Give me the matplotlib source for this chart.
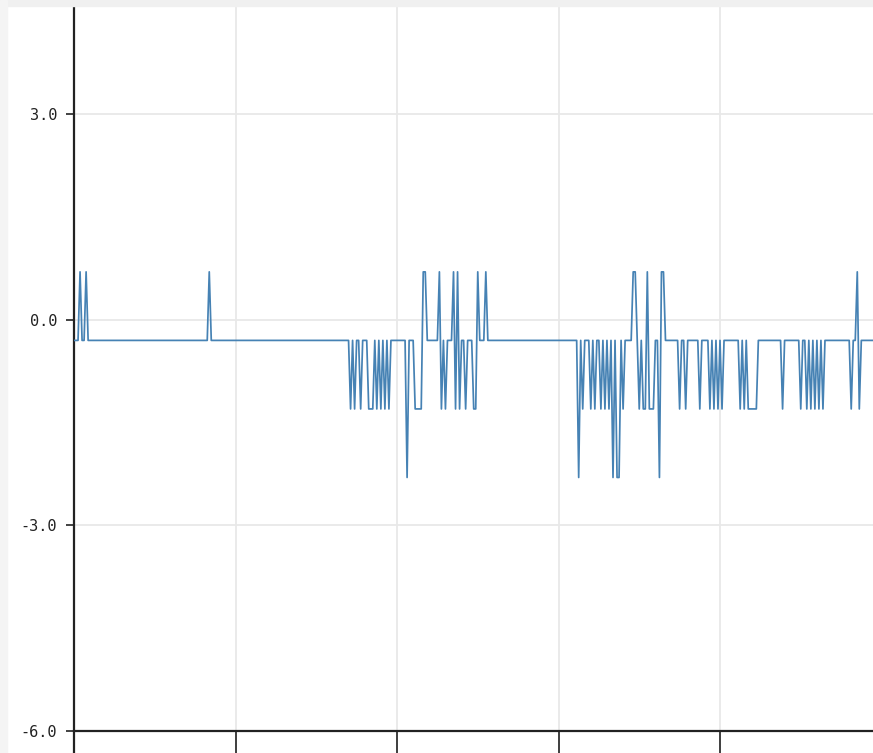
import numpy as np
import matplotlib
matplotlib.use('Agg')
import matplotlib.pyplot as plt
from matplotlib.patches import Rectangle

# signal levels
TOP, PEAK, LOW, DEEP = -0.3, 0.7, -1.3, -2.3

# sample index where the value changes, and the value held from there on
change_idx = [0, 3, 4, 6, 7, 67, 68,
              137, 138, 139, 140, 142, 143, 146, 149, 150, 151, 152, 153,
              154, 155, 156, 157, 165, 166, 169, 173, 175,
              181, 182, 183, 184, 185, 188, 189, 190, 191, 192, 194, 195,
              198, 200, 201, 204, 205,
              250, 251, 252, 253, 256, 257, 258, 259, 261, 262, 263, 264,
              265, 266, 267, 268, 269, 271, 272, 273, 277, 279, 280, 281,
              282, 284, 285, 288, 290, 291, 293,
              300, 301, 303, 304, 310, 311, 315, 316, 317, 318, 319, 320,
              321, 322, 330, 331, 332, 333, 334, 339,
              351, 352, 360, 361, 363, 364, 365, 366, 367, 368, 369, 370,
              371, 372, 385, 386, 388, 389, 390]
change_val = [TOP, PEAK, TOP, PEAK, TOP, PEAK, TOP,
              LOW, TOP, LOW, TOP, LOW, TOP, LOW, TOP, LOW, TOP, LOW, TOP,
              LOW, TOP, LOW, TOP, DEEP, TOP, LOW, PEAK, TOP,
              PEAK, LOW, TOP, LOW, TOP, PEAK, LOW, PEAK, LOW, TOP, LOW, TOP,
              LOW, PEAK, TOP, PEAK, TOP,
              DEEP, TOP, LOW, TOP, LOW, TOP, LOW, TOP, LOW, TOP, LOW, TOP,
              LOW, TOP, DEEP, TOP, DEEP, TOP, LOW, TOP, PEAK, TOP, LOW, TOP,
              LOW, PEAK, LOW, TOP, DEEP, PEAK, TOP,
              LOW, TOP, LOW, TOP, LOW, TOP, LOW, TOP, LOW, TOP, LOW, TOP,
              LOW, TOP, LOW, TOP, LOW, TOP, LOW, TOP,
              LOW, TOP, LOW, TOP, LOW, TOP, LOW, TOP, LOW, TOP, LOW, TOP,
              LOW, TOP, LOW, TOP, PEAK, LOW, TOP]
n_samples = 397

y_ticks = [3.0, 0.0, -3.0, -6.0]
y_labels = ['3.0', '0.0', '-3.0', '-6.0']
x_ticks = [0, 80, 160, 240, 320]

# expand the runs into one value per sample
lengths = np.diff(change_idx + [n_samples])
values = np.repeat(change_val, lengths)
x = np.arange(n_samples)

fig = plt.figure(figsize=(8.73, 7.53), dpi=100, facecolor='white')
# faint screenshot shadow along the top and left edge
fig.patches.append(Rectangle((0, 1 - 6 / 753), 1, 6 / 753, transform=fig.transFigure,
                             color='#f0f0f0', zorder=0))
fig.patches.append(Rectangle((0, 0), 7 / 873, 1, transform=fig.transFigure,
                             color='#f4f4f4', zorder=0))

ax = fig.add_axes([74 / 873, 0, 799 / 873, 1 - 6 / 753])
ax.set_facecolor('white')

ax.plot(x, values, color='#4682b4', lw=1.25, zorder=3)

ax.set_xlim(0, 799 / 161.5 * 80)
ax.set_ylim(-6 - 22 / 68.5, 4.58)

ax.set_yticks(y_ticks)
ax.set_yticklabels(y_labels, family='DejaVu Sans Mono', fontsize=11, color='#222222')
ax.set_xticks(x_ticks)
ax.set_xticklabels([])

ax.grid(True, color='#e8e8e8', lw=1.3, zorder=0)
ax.set_axisbelow(True)

for s in ['top', 'right']:
    ax.spines[s].set_visible(False)
ax.spines['bottom'].set_position(('data', -6))
ax.spines['left'].set_color('#222222')
ax.spines['bottom'].set_color('#222222')
ax.spines['left'].set_linewidth(1.6)
ax.spines['bottom'].set_linewidth(1.6)

ax.tick_params(axis='y', direction='out', length=6, width=1.2, pad=6,
               color='#222222')
ax.tick_params(axis='x', direction='out', length=20, width=1.2,
               color='#222222')

fig.savefig('out.png', dpi=100, facecolor=fig.get_facecolor())
